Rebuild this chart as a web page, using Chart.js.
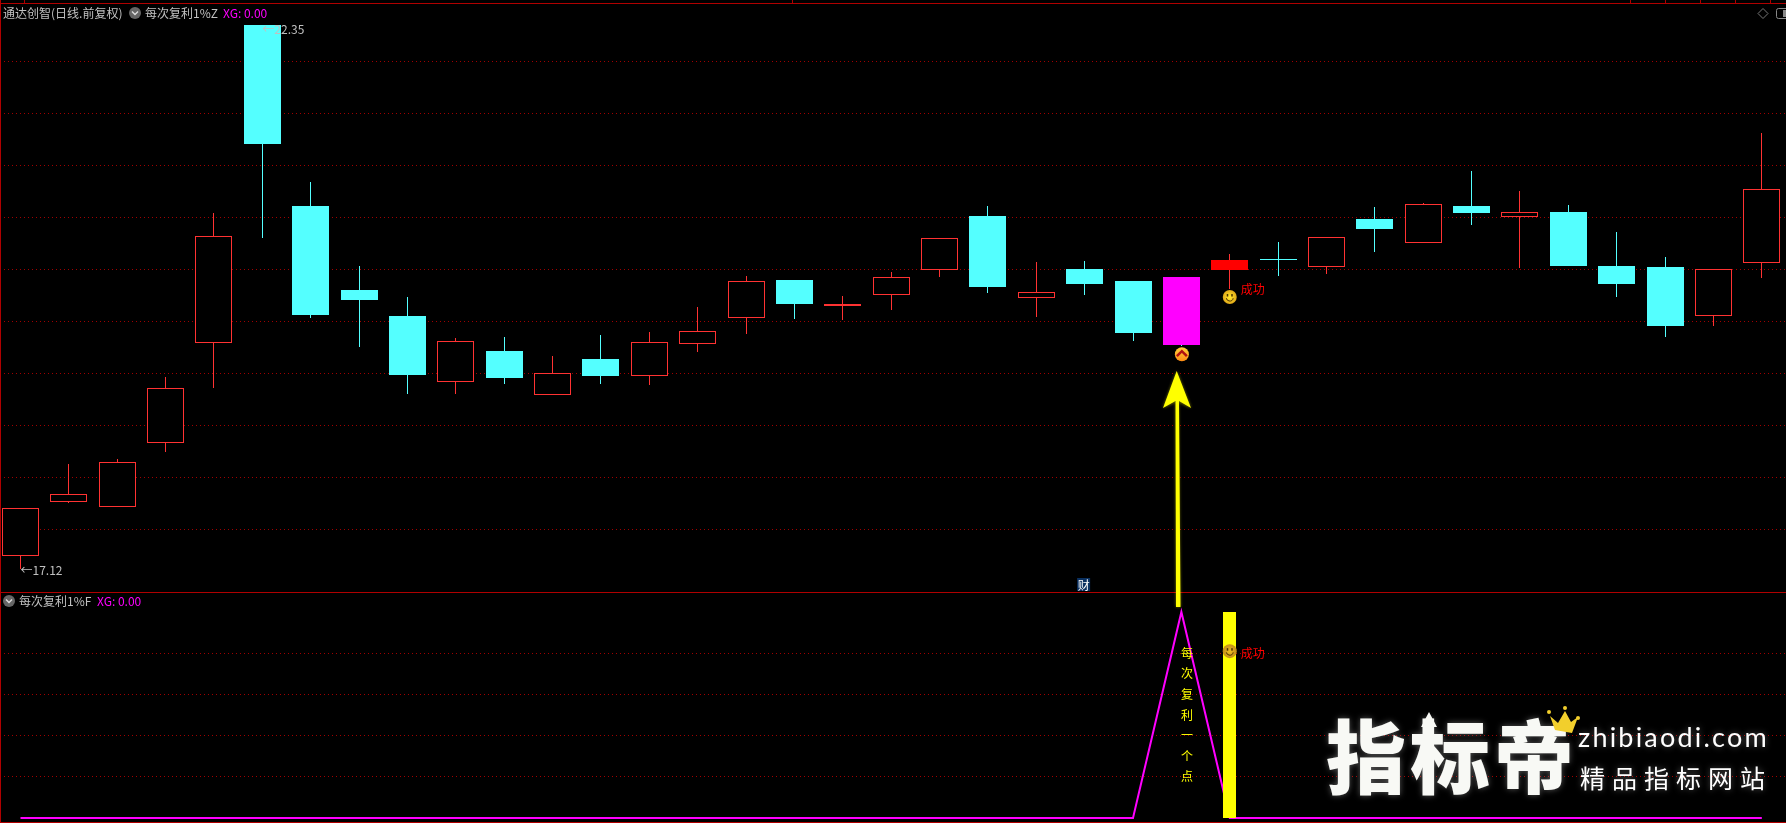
<!DOCTYPE html>
<html>
<head>
<meta charset="utf-8">
<title>通达创智</title>
<script src="https://cdn.jsdelivr.net/npm/chart.js@4/dist/chart.umd.min.js"></script>
<style>
html,body{margin:0;padding:0;background:#000;width:1786px;height:823px;overflow:hidden;}
canvas{position:absolute;left:0;}
#topChart{top:0;}
#subChart{top:593px;}
.line{position:absolute;background:#b00000;}
.txt{position:absolute;white-space:pre;font:12px/16px "Noto Sans CJK SC",sans-serif;color:#c0c0c0;}
.mag{color:#ff00ff;}
.logo{position:absolute;white-space:pre;color:#f8f9f5;text-shadow:0 0 6px rgba(255,255,255,.35);font-family:"Noto Sans CJK SC",sans-serif;}
svg{position:absolute;left:0;top:0;}
</style>
</head>
<body>
<canvas id="topChart" width="1786" height="593"></canvas>
<canvas id="subChart" width="1786" height="230"></canvas>

<!-- 边框 -->
<div class="line" style="left:0;top:3px;width:1786px;height:1px"></div>
<div class="line" style="left:0;top:0;width:1px;height:823px"></div>
<div class="line" style="left:0;top:592px;width:1786px;height:1px"></div>
<div class="line" style="left:0;top:822px;width:1786px;height:1px"></div>
<div class="line" style="left:24px;top:0;width:1px;height:3px"></div>
<div class="line" style="left:792px;top:0;width:1px;height:3px"></div>
<div class="line" style="left:1630px;top:0;width:1px;height:3px"></div>
<div class="line" style="left:1665px;top:0;width:1px;height:3px"></div>
<div class="line" style="left:1700px;top:0;width:1px;height:3px"></div>
<div class="line" style="left:1735px;top:0;width:1px;height:3px"></div>
<div class="line" style="left:1770px;top:0;width:1px;height:3px"></div>

<!-- 标题 -->
<div class="txt" style="left:3px;top:5px">通达创智(日线.前复权)</div>
<div class="txt" style="left:145px;top:5px">每次复利1%Z</div>
<div class="txt mag" style="left:223px;top:5px">XG: 0.00</div>
<div class="txt" style="left:19px;top:593px">每次复利1%F</div>
<div class="txt mag" style="left:97px;top:593px">XG: 0.00</div>

<!-- 水印 -->
<div class="logo" style="left:1326px;top:697px;font-size:80px;line-height:110px;font-weight:900;letter-spacing:4px">指标帝</div>
<div class="logo" style="left:1578px;top:720px;font-size:27px;line-height:34px;font-family:Lato,sans-serif;letter-spacing:2.2px;color:#fff">zhibiaodi.com</div>
<div class="logo" style="left:1580px;top:759px;font-size:25px;line-height:36px;letter-spacing:7px;color:#fff">精品指标网站</div>

<svg width="1786" height="823">
  <defs>
    <filter id="glow" x="-50%" y="-10%" width="200%" height="120%"><feGaussianBlur stdDeviation="1.5"/></filter>
  </defs>
  <!-- 黄色箭头 -->
  <g filter="url(#glow)" opacity=".45">
    <path d="M1176.7 371L1191 408L1178.5 402L1180.5 607L1176 607L1175.5 402L1163 408Z" fill="#ffff00"/>
  </g>
  <path d="M1176.7 371L1191 408L1179 401L1180.5 605L1180.5 607L1176 607L1175.5 401L1163 408Z" fill="#ffff00"/>
  <!-- 指标帝 上的箭头和皇冠 -->
  <path d="M1429 712L1437 727L1432 727L1432 736L1426 736L1426 727L1421 727Z" fill="#f8f9f5"/>
  <path d="M1550 716L1558 723L1565 711L1571 722L1578 717L1572 733L1555 730Z" fill="#f2cf2c"/>
  <circle cx="1549" cy="712" r="2" fill="#f2cf2c"/>
  <circle cx="1565" cy="708" r="2" fill="#f2cf2c"/>
  <circle cx="1578" cy="718" r="2" fill="#f2cf2c"/>
  <!-- 下拉按钮 -->
  <g>
    <circle cx="135" cy="13" r="6" fill="#666"/>
    <path d="M132 11.5L135 14.5L138 11.5" stroke="#ddd" stroke-width="1.4" fill="none"/>
    <circle cx="9" cy="601" r="6" fill="#666"/>
    <path d="M6 599.5L9 602.5L12 599.5" stroke="#ddd" stroke-width="1.4" fill="none"/>
  </g>
  <!-- 右上角 -->
  <path d="M1763 8.5L1768 13.5L1763 18.5L1758 13.5Z" fill="none" stroke="#777"/>
  <rect x="1776.5" y="8.5" width="12" height="10" rx="2" fill="none" stroke="#888"/>
  <rect x="1783" y="10" width="4" height="7" fill="#888"/>
</svg>

<script>
// 日K数据, 从图上读的
var candleIndex = [0,1,2,3,4,5,6,7,8,9,10,11,12,13,14,15,16,17,18,19,20,21,22,23,24,25,26,27,28,29,30,31,32,33,34,35,36];
var openPrices  = [17.24,17.76,17.71,18.33,19.29,22.35,20.61,19.80,19.55,18.92,19.21,18.79,19.14,18.97,19.28,19.53,19.90,19.65,19.75,19.99,20.51,19.72,20.00,19.89,19.93,19.99,20.10,20.02,20.48,20.25,20.61,20.50,20.55,20.03,20.02,19.55,20.06];
var closePrices = [17.70,17.84,18.15,18.86,20.32,21.20,19.56,19.70,18.98,19.31,18.95,19.00,18.97,19.30,19.41,19.89,19.67,19.67,19.93,20.30,19.83,19.78,19.86,19.39,19.27,20.09,20.09,20.31,20.39,20.63,20.54,20.55,20.03,19.86,19.45,20.00,20.77];
var highPrices  = [17.70,18.13,18.18,18.96,20.54,22.35,20.84,20.03,19.73,19.34,19.35,19.17,19.37,19.40,19.64,19.94,19.90,19.74,19.97,20.30,20.61,20.07,20.08,19.89,19.93,20.15,20.26,20.31,20.60,20.64,20.94,20.75,20.62,20.36,20.12,20.00,21.31];
var lowPrices   = [17.12,17.75,17.71,18.24,18.86,20.30,19.53,19.25,18.80,18.80,18.90,18.79,18.90,18.89,19.20,19.38,19.52,19.51,19.61,19.93,19.77,19.54,19.75,19.31,19.26,19.81,19.94,19.95,20.17,20.25,20.43,20.01,20.03,19.73,19.35,19.45,19.92];
// 副图
var signalLine  = [0,0,0,0,0,0,0,0,0,0,0,0,0,0,0,0,0,0,0,0,0,0,0,0,1,0,0,0,0,0,0,0,0,0,0,0,0];
var successBar  = [null,null,null,null,null,null,null,null,null,null,null,null,null,null,null,null,null,null,null,null,null,null,null,null,null,[0,1],null,null,null,null,null,null,null,null,null,null,null];
var topGridTicks = [22,21.5,21,20.5,20,19.5,19,18.5,18,17.5];
var subGridTicks = [0.2,0.4,0.6,0.8];
var signalText = ['每','次','复','利','一','个','点'];
var signalIdx = 24;
var successIdx = 25;

var UP = '#ff3232', DOWN = '#54ffff', GRID = '#a00000';
var FONT = '"Noto Sans CJK SC",sans-serif';

function upCandle(i){
    return closePrices[i] >= openPrices[i];
}
var candleColor = candleIndex.map(function(i){
    if(i == signalIdx) return '#ff00ff';
    if(i == successIdx) return '#ff0000';
    return upCandle(i) ? UP : DOWN;
});
var bodyFill = candleIndex.map(function(i){
    if(i == signalIdx) return '#ff00ff';
    if(i == successIdx) return '#ff0000';
    return upCandle(i) ? '#000000' : DOWN;
});
var wickColor = candleIndex.map(function(i){
    return upCandle(i) ? UP : DOWN;
});
var bodies = candleIndex.map(function(i){ return [openPrices[i], closePrices[i]]; });
var wicks  = candleIndex.map(function(i){ return [lowPrices[i], highPrices[i]]; });

function baseScales(yMin, yMax, ticks){
    return {
        x: {type: 'linear', display: false, offset: false, min: -0.4238, max: 36.5},
        y: {
            type: 'linear', min: yMin, max: yMax,
            afterBuildTicks: function(axis){
                axis.ticks = ticks.map(function(v){ return {value: v}; });
            },
            ticks: {display: false, padding: 0},
            border: {display: false, dash: [1, 3]},
            grid: {color: GRID, lineWidth: 1, drawTicks: false, tickLength: 0}
        }
    };
}

// 柱子对齐到整像素, 不然细线发虚
var snapBars = {
    id: 'snapBars',
    afterDatasetsUpdate: function(chart){
        chart.data.datasets.forEach(function(ds, n){
            var meta = chart.getDatasetMeta(n);
            if(meta.type != 'bar') return;
            meta.data.forEach(function(el){
                el.x = Math.floor(el.x) + 0.5;
                el.y = Math.round(el.y);
                el.base = Math.round(el.base);
            });
        });
    }
};

function smiley(ctx, x, y, dark){
    var g = ctx.createRadialGradient(x, y, 1, x, y, 7);
    g.addColorStop(0, dark ? '#e8b820' : '#ffe22a');
    g.addColorStop(1, dark ? '#c48f18' : '#e0a818');
    ctx.fillStyle = g;
    ctx.beginPath(); ctx.arc(x, y, 7, 0, Math.PI*2); ctx.fill();
    ctx.fillStyle = '#4a3000';
    ctx.fillRect(x-3, y-3, 1.5, 2.5);
    ctx.fillRect(x+1.5, y-3, 1.5, 2.5);
    ctx.strokeStyle = '#4a3000';
    ctx.lineWidth = 1;
    ctx.beginPath(); ctx.arc(x, y+0.5, 3.5, 0.2, Math.PI-0.2); ctx.stroke();
}

function drawText(ctx, s, x, y, color){
    ctx.fillStyle = color;
    ctx.textBaseline = 'middle';
    ctx.font = '12px ' + FONT;
    ctx.fillText(s, x, y);
}

// 主图上的文字和图标
var topMarks = {
    id: 'topMarks',
    afterDatasetsDraw: function(chart){
        var ctx = chart.ctx, sx = chart.scales.x, sy = chart.scales.y;
        ctx.save();
        drawText(ctx, '←22.35', sx.getPixelForValue(5) - 0, sy.getPixelForValue(22.35) + 5, '#c0c0c0');
        drawText(ctx, '←17.12', sx.getPixelForValue(0), sy.getPixelForValue(17.12) + 2, '#c0c0c0');

        // 财
        var cx = sx.getPixelForValue(22) - 1;
        ctx.fillStyle = '#0a3060';
        ctx.fillRect(cx - 6.5, 578, 13, 13);
        ctx.textAlign = 'center';
        drawText(ctx, '财', cx, 585, '#ffffff');
        ctx.textAlign = 'left';

        // 成功
        var x2 = sx.getPixelForValue(successIdx);
        var y2 = sy.getPixelForValue(lowPrices[successIdx]);
        smiley(ctx, x2, y2 + 8, false);
        drawText(ctx, '成功', x2 + 11, y2 + 0.5, '#ff0000');

        // 向上的圆标
        var x1 = sx.getPixelForValue(signalIdx) + 0.5;
        var y1 = sy.getPixelForValue(lowPrices[signalIdx]) + 8;
        var g = ctx.createLinearGradient(0, y1 - 7, 0, y1 + 7);
        g.addColorStop(0, '#ffd23c');
        g.addColorStop(1, '#ff8c14');
        ctx.fillStyle = g;
        ctx.beginPath(); ctx.arc(x1, y1, 7, 0, Math.PI*2); ctx.fill();
        ctx.strokeStyle = '#b01010';
        ctx.lineWidth = 2.5;
        ctx.beginPath(); ctx.moveTo(x1-5, y1+2); ctx.lineTo(x1, y1-3); ctx.lineTo(x1+5, y1+2); ctx.stroke();
        ctx.restore();
    }
};

// 副图上的文字和图标
var subMarks = {
    id: 'subMarks',
    afterDatasetsDraw: function(chart){
        var ctx = chart.ctx, sx = chart.scales.x, sy = chart.scales.y;
        ctx.save();
        var x = sx.getPixelForValue(signalIdx) + 5.5;
        ctx.textAlign = 'center';
        signalText.forEach(function(c, i){
            drawText(ctx, c, x, sy.getPixelForValue(0.8 - i*0.1), '#ffff00');
        });
        ctx.textAlign = 'left';
        var x2 = sx.getPixelForValue(successIdx);
        var y2 = sy.getPixelForValue(0.8);
        smiley(ctx, x2, y2 - 2, true);
        drawText(ctx, '成功', x2 + 11, y2, '#ff0000');
        ctx.restore();
    }
};

new Chart(document.getElementById('topChart'), {
    type: 'bar',
    data: {
        labels: candleIndex,
        datasets: [
            {label: 'wick', data: wicks, grouped: false, order: 2, barThickness: 1, inflateAmount: 0,
             backgroundColor: wickColor, borderWidth: 0},
            {label: 'body', data: bodies, grouped: false, order: 1, barThickness: 37, inflateAmount: 0,
             backgroundColor: bodyFill, borderColor: candleColor, borderWidth: 1, borderSkipped: false}
        ]
    },
    options: {
        responsive: false, animation: false,
        layout: {padding: {top: 3, bottom: 1, left: 0, right: 0}},
        plugins: {legend: {display: false}, tooltip: {enabled: false}},
        scales: baseScales(16.897, 22.56, topGridTicks)
    },
    plugins: [snapBars, topMarks]
});

new Chart(document.getElementById('subChart'), {
    type: 'bar',
    data: {
        labels: candleIndex,
        datasets: [
            {type: 'bar', label: 'success', data: successBar, grouped: false, order: 1, barThickness: 13, inflateAmount: 0,
             backgroundColor: '#ffff00', borderWidth: 0},
            {type: 'line', label: 'signal', data: signalLine, order: 2,
             borderColor: '#ff00ff', borderWidth: 2, pointRadius: 0, tension: 0}
        ]
    },
    options: {
        responsive: false, animation: false,
        layout: {padding: {top: 0, bottom: 1, left: 0, right: 0}},
        plugins: {legend: {display: false}, tooltip: {enabled: false}},
        scales: baseScales(-0.0194, 1.092, subGridTicks)
    },
    plugins: [snapBars, subMarks]
});
</script>
</body>
</html>
